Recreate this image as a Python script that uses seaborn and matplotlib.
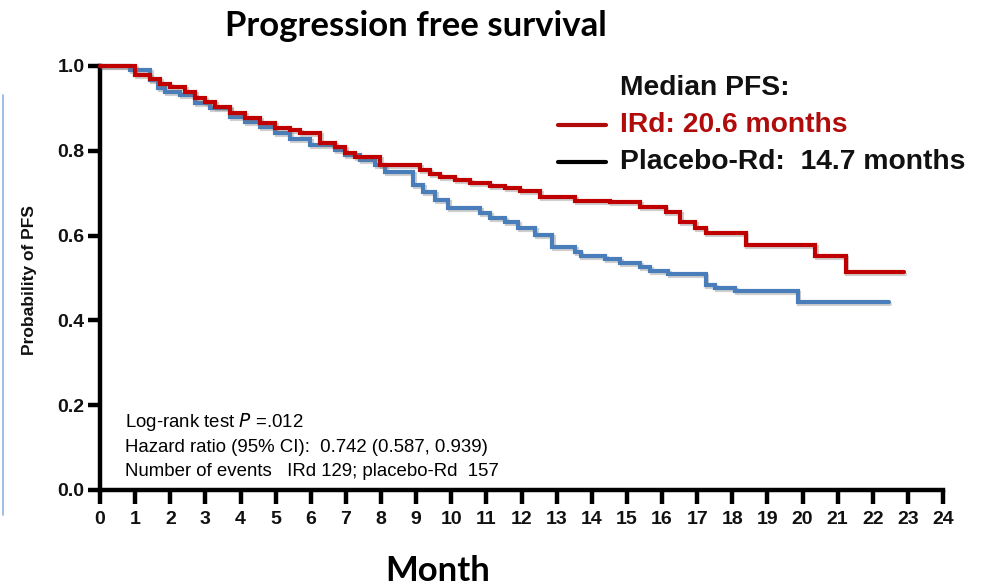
import matplotlib
matplotlib.use("Agg")
import matplotlib.pyplot as plt
import matplotlib.patheffects as pe
from matplotlib.lines import Line2D
import numpy as np
import pandas as pd
import seaborn as sns

# Kaplan-Meier step estimates (month of event, survival after event)
ird_months = [0.0, 1.00, 1.42, 1.71, 1.99, 2.42, 2.71, 2.99, 3.28, 3.70, 4.13, 4.56,
              4.99, 5.41, 5.70, 6.27, 6.70, 6.98, 7.26, 7.98, 9.12, 9.40, 9.69,
              10.11, 10.54, 11.11, 11.54, 11.97, 12.54, 13.53, 14.53, 15.38, 16.10,
              16.52, 16.95, 17.24, 18.38, 20.37, 21.23, 22.88]
ird_pfs = [1.000, 0.979, 0.969, 0.958, 0.950, 0.939, 0.925, 0.915, 0.903, 0.889, 0.877,
           0.866, 0.854, 0.849, 0.842, 0.818, 0.809, 0.795, 0.785, 0.766, 0.755, 0.745,
           0.738, 0.731, 0.724, 0.717, 0.712, 0.706, 0.691, 0.682, 0.679, 0.667, 0.656,
           0.632, 0.618, 0.606, 0.578, 0.552, 0.514, 0.514]

pbo_months = [0.0, 0.85, 1.42, 1.65, 1.85, 2.28, 2.71, 3.13, 3.70, 4.13, 4.56, 4.99,
              5.41, 5.98, 6.70, 6.98, 7.41, 7.83, 8.12, 8.92, 9.20, 9.54, 9.91, 10.83,
              11.11, 11.54, 11.91, 12.39, 12.88, 13.53, 13.68, 14.39, 14.81, 15.38,
              15.67, 16.18, 17.24, 17.52, 18.09, 19.86, 22.45]
pbo_pfs = [1.000, 0.991, 0.967, 0.948, 0.939, 0.932, 0.913, 0.901, 0.880, 0.868, 0.856,
           0.842, 0.828, 0.814, 0.802, 0.790, 0.778, 0.767, 0.750, 0.719, 0.703, 0.684,
           0.665, 0.653, 0.642, 0.632, 0.618, 0.601, 0.573, 0.561, 0.552, 0.545, 0.535,
           0.526, 0.517, 0.509, 0.483, 0.476, 0.469, 0.443, 0.443]

arm_names = ["IRd", "Placebo-Rd"]
x_ticks = list(range(0, 25))
y_ticks = [0.0, 0.2, 0.4, 0.6, 0.8, 1.0]
y_tick_labels = ["0.0", "0.2", "0.4", "0.6", "0.8", "1.0"]

title = "Progression free survival"
x_label = "Month"
y_label = "Probability of PFS"
legend_title = "Median PFS:"
legend_entries = ["IRd: 20.6 months", "Placebo-Rd:  14.7 months"]
stats_lines = ["Hazard ratio (95% CI):  0.742 (0.587, 0.939)",
               "Number of events   IRd 129; placebo-Rd  157"]

RED = "#C00000"
BLUE = "#4A7EBB"

df = pd.concat([
    pd.DataFrame({"month": ird_months, "pfs": ird_pfs, "arm": arm_names[0]}),
    pd.DataFrame({"month": pbo_months, "pfs": pbo_pfs, "arm": arm_names[1]}),
], ignore_index=True)

sns.set_theme(style="ticks")
plt.rcParams["font.family"] = ["Liberation Sans", "DejaVu Sans"]
plt.rcParams.update({
    "xtick.bottom": True, "ytick.left": True,
    "xtick.major.size": 10, "ytick.major.size": 9,
    "xtick.major.width": 3.2, "ytick.major.width": 3.2,
    "xtick.color": "black", "ytick.color": "black",
    "xtick.direction": "out", "ytick.direction": "out",
})

fig = plt.figure(figsize=(9.9, 5.86), dpi=100)
ax = fig.add_axes([100 / 990, 1 - 490 / 586, 843 / 990, 424 / 586])

sns.lineplot(data=df, x="month", y="pfs", hue="arm", hue_order=arm_names,
             palette=[RED, BLUE], drawstyle="steps-post",
             estimator=None, sort=True, linewidth=3.0, legend=False, ax=ax)

shadow = [pe.SimpleLineShadow(offset=(1.2, -1.5), shadow_color="#777777", alpha=0.35),
          pe.Normal()]
lines = ax.get_lines()
for ln in lines:
    ln.set_path_effects(shadow)
    ln.set_clip_on(False)
    ln.set_solid_joinstyle("miter")
# IRd arm drawn above the control arm
if len(lines) == 2:
    lines[0].set_zorder(3)
    lines[1].set_zorder(2)

ax.set_xlim(0, 24)
ax.set_ylim(0, 1)
ax.set_xticks(x_ticks)
ax.set_xticklabels([str(t) for t in x_ticks], fontsize=14, fontweight="bold")
ax.set_yticks(y_ticks)
ax.set_yticklabels(y_tick_labels, fontsize=14, fontweight="bold")

for side in ["top", "right"]:
    ax.spines[side].set_visible(False)
for side in ["left", "bottom"]:
    ax.spines[side].set_linewidth(3.2)
    ax.spines[side].set_color("black")
    ax.spines[side].set_capstyle("projecting")
ax.tick_params(axis="x", which="major", bottom=True, direction="out", length=10,
               width=3.2, color="black", pad=5, labelcolor="#111111")
ax.tick_params(axis="y", which="major", left=True, direction="out", length=9,
               width=3.2, color="black", pad=2, labelcolor="#111111")
ax.set_xlabel("")
ax.set_ylabel("")

fig.text(30 / 990, 1 - 280 / 586, y_label, rotation=90, ha="center", va="center",
         fontsize=12.5, fontweight="bold", color="#111111")
fig.text(438 / 990, 1 - 571 / 586, x_label, ha="center", va="center",
         fontsize=25, fontweight="bold", family=["Lato", "DejaVu Sans"], color="black")
fig.text(416 / 990, 1 - 26 / 586, title, ha="center", va="center",
         fontsize=25, fontweight="bold", family=["Lato", "DejaVu Sans"], color="black")

# median PFS key
fig.text(620 / 990, 1 - 88 / 586, legend_title, ha="left", va="center",
         fontsize=20.3, fontweight="bold", color="#111111")
fig.text(620 / 990, 1 - 125 / 586, legend_entries[0], ha="left", va="center",
         fontsize=20.3, fontweight="bold", color="#B00C0C")
fig.text(620 / 990, 1 - 162 / 586, legend_entries[1], ha="left", va="center",
         fontsize=20.3, fontweight="bold", color="#111111")
fig.add_artist(Line2D([558 / 990, 606 / 990], [1 - 125 / 586] * 2, color="#B00C0C",
                      linewidth=3, transform=fig.transFigure))
fig.add_artist(Line2D([558 / 990, 606 / 990], [1 - 162 / 586] * 2, color="black",
                      linewidth=3, transform=fig.transFigure))

# statistics block
fig.text(125 / 990, 1 - 422 / 586, r"Log-rank test $\mathit{P}$ =.012", ha="left",
         va="center", fontsize=13.4, color="black")
for i, s in enumerate(stats_lines):
    fig.text(125 / 990, 1 - (447 + 25 * i) / 586, s, ha="left", va="center",
             fontsize=13.4, color="black")

# thin slide rule along the left edge
fig.add_artist(Line2D([3 / 990, 3 / 990], [1 - 95 / 586, 1 - 515 / 586],
                      color="#8DB3E2", linewidth=1.2, transform=fig.transFigure))

fig.savefig("out.png", dpi=100)
